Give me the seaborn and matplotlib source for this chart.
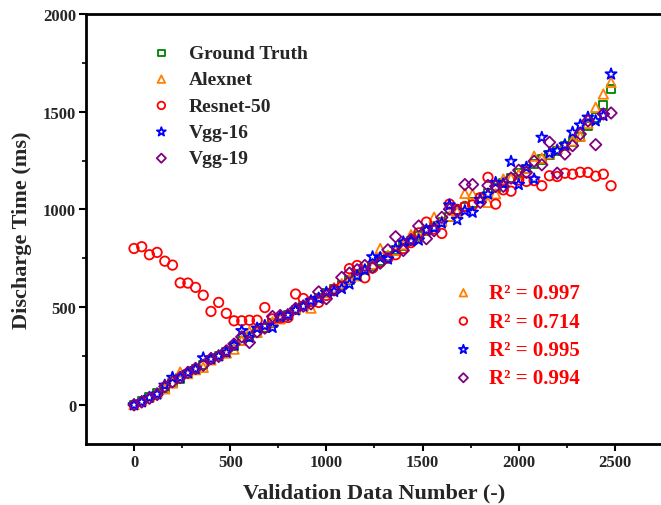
import matplotlib
matplotlib.use('Agg')
import matplotlib.pyplot as plt
import seaborn as sns

# Validation data index (step 40)
x_vals = list(range(0, 2481, 40))

ground_truth = [0, 18, 38, 58, 85, 110, 135, 160, 182, 205, 228, 250, 272, 300, 325,
                345, 370, 395, 420, 440, 460, 485, 505, 525, 548, 570, 590, 615, 640,
                665, 690, 710, 735, 760, 790, 815, 840, 865, 890, 912, 935, 960, 985,
                1010, 1035, 1060, 1085, 1110, 1135, 1160, 1185, 1205, 1230, 1255, 1280,
                1300, 1325, 1345, 1370, 1425, 1470, 1534, 1616]

alexnet = [2, 20, 42, 62, 82, 112, 168, 160, 180, 192, 230, 255, 265, 285, 330,
           375, 372, 410, 425, 440, 462, 490, 508, 495, 550, 575, 600, 620, 645,
           660, 695, 720, 800, 765, 790, 820, 870, 860, 895, 960, 940, 965, 990,
           1082, 1078, 1060, 1036, 1080, 1155, 1160, 1180, 1210, 1272, 1262, 1285,
           1310, 1330, 1350, 1374, 1440, 1522, 1590, 1650]

resnet50 = [800, 809, 768, 780, 735, 715, 624, 623, 601, 561, 478, 524, 468, 430, 430,
            433, 433, 498, 440, 445, 447, 567, 544, 529, 524, 560, 590, 606, 697,
            713, 650, 700, 730, 750, 768, 800, 830, 880, 935, 900, 877, 1027, 1000,
            1015, 1022, 1060, 1164, 1027, 1100, 1093, 1150, 1143, 1147, 1121, 1172,
            1168, 1185, 1180, 1190, 1189, 1170, 1180, 1121]

vgg16 = [0, 15, 38, 55, 100, 140, 140, 165, 185, 240, 235, 250, 270, 305, 379,
         345, 392, 405, 396, 450, 460, 485, 505, 532, 545, 575, 580, 595, 618,
         660, 690, 757, 753, 746, 800, 833, 840, 843, 895, 905, 930, 1022, 947,
         993, 985, 1050, 1078, 1137, 1130, 1245, 1127, 1215, 1155, 1368, 1288,
         1300, 1330, 1394, 1431, 1471, 1453, 1480, 1692]

vgg19 = [0, 15, 34, 53, 94, 118, 140, 166, 186, 203, 237, 248, 276, 311, 348,
         319, 374, 393, 452, 457, 460, 493, 505, 517, 578, 543, 588, 652, 674,
         691, 713, 704, 725, 793, 860, 790, 846, 915, 850, 891, 959, 1001, 993,
         1127, 1127, 1036, 1122, 1118, 1118, 1160, 1200, 1189, 1246, 1228, 1343,
         1185, 1283, 1326, 1385, 1453, 1331, 1488, 1493]

series_names = ['Ground Truth', 'Alexnet', 'Resnet-50', 'Vgg-16', 'Vgg-19']
series_values = [ground_truth, alexnet, resnet50, vgg16, vgg19]
series_colors = ['#008000', '#FF8000', '#FF0000', '#0000FF', '#800080']
series_markers = ['s', '^', 'o', '*', 'D']
series_sizes = [34, 46, 46, 70, 34]
r2_labels = ['R² = 0.997', 'R² = 0.714', 'R² = 0.995', 'R² = 0.994']

sns.set_theme(style='ticks')
plt.rcParams['font.family'] = ['Liberation Serif', 'DejaVu Serif']
plt.rcParams['font.weight'] = 'bold'

fig = plt.figure(figsize=(6.61, 5.06), dpi=100)
ax = fig.add_axes([0.130, 0.1206, 0.873, 0.850])

handles = []
for name, vals, col, mk, sz in zip(series_names, series_values, series_colors,
                                   series_markers, series_sizes):
    sns.scatterplot(x=x_vals, y=vals, marker=mk, s=sz, color=col, facecolor='none',
                    edgecolor=col, linewidth=1.3, ax=ax, zorder=3)
    handles.append(ax.collections[-1])

ax.set_xlim(-250, 2750)
ax.set_ylim(-200, 2000)
ax.set_xticks([0, 500, 1000, 1500, 2000, 2500])
ax.set_xticks(range(250, 2750, 500), minor=True)
ax.set_yticks([0, 500, 1000, 1500, 2000])
ax.set_yticks(range(250, 2000, 500), minor=True)
ax.tick_params(which='major', direction='out', length=5, width=1.5, pad=2,
               labelsize=12, color='black')
ax.tick_params(which='minor', direction='out', length=3, width=1.2, color='black')
for lab in ax.get_xticklabels() + ax.get_yticklabels():
    lab.set_fontweight('bold')
for sp in ax.spines.values():
    sp.set_visible(True)
    sp.set_linewidth(2)
    sp.set_color('black')

ax.set_xlabel('Validation Data Number (-)', fontsize=16, fontweight='bold', labelpad=9)
ax.set_ylabel('Discharge Time (ms)', fontsize=16, fontweight='bold', labelpad=8)

leg1 = ax.legend(handles, series_names, loc='upper left', bbox_to_anchor=(0.097, 0.952),
                 frameon=False, borderpad=0, handlelength=1.0, handletextpad=0.9,
                 labelspacing=0.45, markerscale=0.8,
                 prop={'family': 'Liberation Serif', 'weight': 'bold', 'size': 14})
ax.add_artist(leg1)

ax.legend(handles[1:], r2_labels, loc='upper left', bbox_to_anchor=(0.618, 0.398),
          frameon=False, borderpad=0, handlelength=1.0, handletextpad=0.72,
          labelspacing=0.4, markerscale=0.8, labelcolor='#FF0000',
          prop={'family': 'Liberation Serif', 'weight': 'bold', 'size': 15})

fig.savefig('out.png', dpi=100)
